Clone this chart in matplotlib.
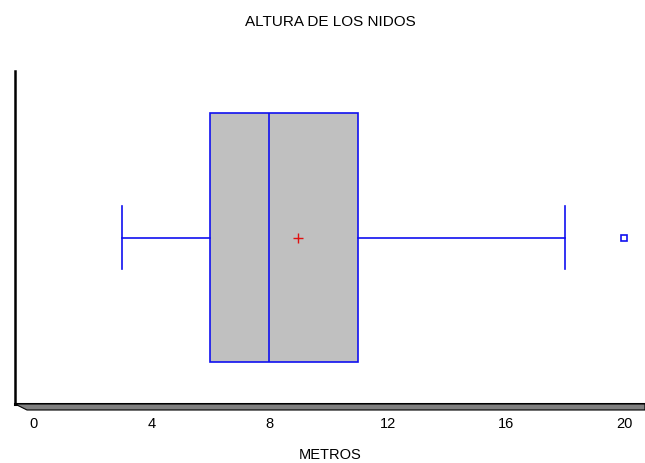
import matplotlib
matplotlib.use("Agg")
import matplotlib.pyplot as plt
from matplotlib.patches import Polygon

plt.rcParams['font.family'] = ['Liberation Sans', 'DejaVu Sans']

# Summary of nest heights (metres)
whisker_low = 3
q1 = 6
median = 8
mean = 8.96
q3 = 11
whisker_high = 18
outliers = [20]
tick_values = [0, 4, 8, 12, 16, 20]
tick_labels = ['0', '4', '8', '12', '16', '20']

stats = [{
    'whislo': whisker_low, 'q1': q1, 'med': median, 'mean': mean,
    'q3': q3, 'whishi': whisker_high, 'fliers': outliers,
}]

fig = plt.figure(figsize=(6.45, 4.64), dpi=100)
ax = fig.add_axes([15 / 645, 59 / 464, 630 / 645, 333 / 464])

blue = '#1010f0'
ax.bxp(stats, positions=[0.5], widths=0.748, vert=False,
       patch_artist=True, showmeans=True, capwidths=0.189,
       boxprops=dict(facecolor='#c0c0c0', edgecolor=blue, linewidth=1.2),
       medianprops=dict(color=blue, linewidth=1.2),
       whiskerprops=dict(color=blue, linewidth=1.2),
       capprops=dict(color=blue, linewidth=1.2),
       flierprops=dict(marker='s', markersize=4.5, markerfacecolor='white',
                       markeredgecolor=blue, markeredgewidth=1.2),
       meanprops=dict(marker='+', markersize=7, markeredgecolor='#e01010',
                      markeredgewidth=1.0))

ax.set_xlim(-0.61, 20.71)
ax.set_ylim(0, 1)
ax.set_xticks(tick_values)
ax.set_xticklabels(tick_labels, fontsize=10.5)
ax.set_yticks([])
ax.tick_params(axis='x', length=0, pad=9)

for side in ['top', 'right']:
    ax.spines[side].set_visible(False)
ax.spines['left'].set_linewidth(1.8)
ax.spines['bottom'].set_linewidth(2.2)
ax.spines['left'].set_zorder(5)
ax.spines['bottom'].set_zorder(5)

# gray shadow band under the x axis
shadow = Polygon([(15, 464 - 405), (27, 464 - 411), (645, 464 - 411), (645, 464 - 405)],
                 closed=True, transform=None, facecolor='#808080',
                 edgecolor='black', linewidth=0.8, zorder=4)
fig.patches.append(shadow)

fig.text(0.512, 1 - 22 / 464, 'ALTURA DE LOS NIDOS', ha='center', va='center',
         fontsize=11)
fig.text(0.512, 1 - 455 / 464, 'METROS', ha='center', va='center', fontsize=10.5)

fig.savefig('out.png', dpi=100)
